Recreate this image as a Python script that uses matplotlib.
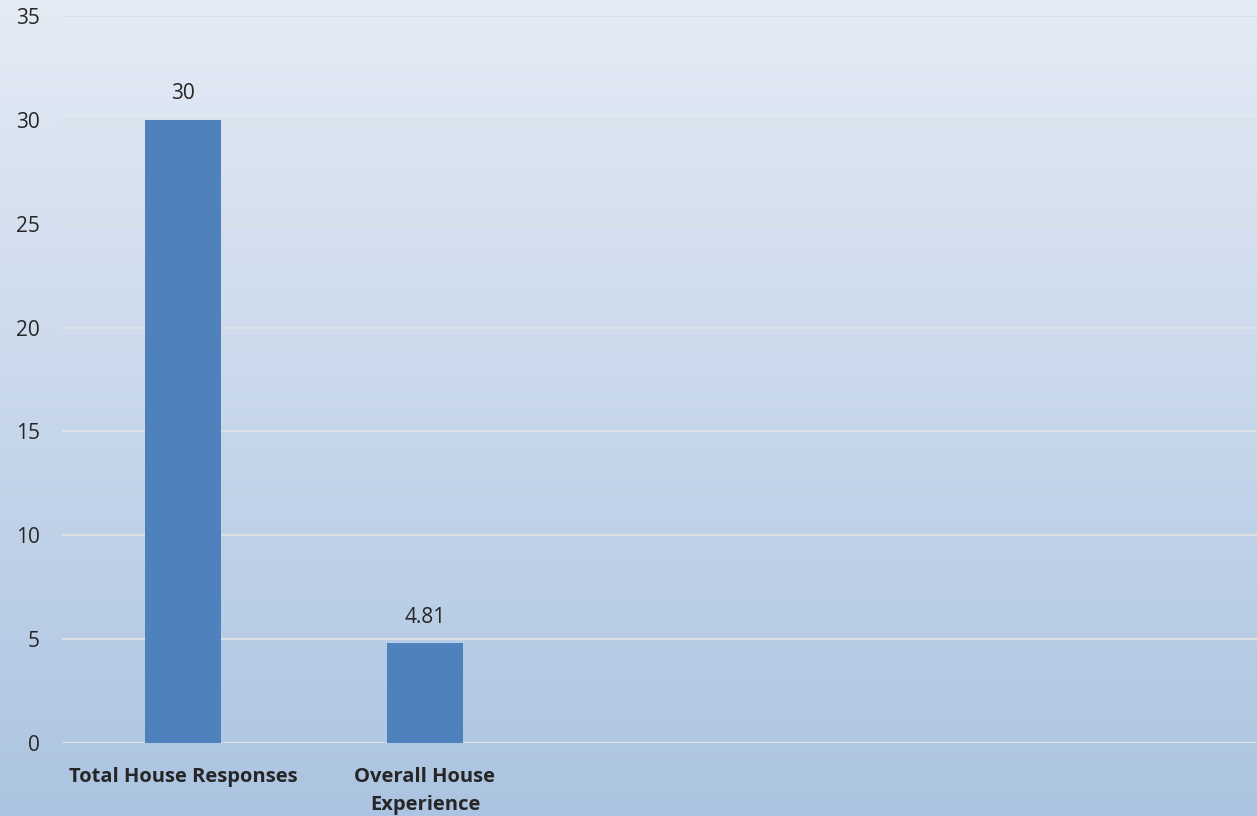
import matplotlib.pyplot as plt
import numpy as np

categories = ['Total House Responses', 'Overall House\nExperience', '', '', '']
values = [30, 4.81, None, None, None]
value_labels = ['30', '4.81']

plt.rcParams['font.family'] = ['Open Sans', 'DejaVu Sans']

fig = plt.figure(figsize=(12.57, 8.16), dpi=100)

# gradient background
bg = fig.add_axes([0, 0, 1, 1], zorder=-1)
grad = np.linspace(0, 1, 256).reshape(-1, 1)
top = np.array([0xe4, 0xeb, 0xf5]) / 255
bot = np.array([0xac, 0xc4, 0xe1]) / 255
img = top + (bot - top) * grad[:, :, None]
bg.imshow(img, aspect='auto', extent=[0, 1, 0, 1])
bg.axis('off')

ax = fig.add_axes([62 / 1257, 73 / 816, 1 - 62 / 1257, 727 / 816])
ax.patch.set_alpha(0)

x = np.arange(len(categories))
shown = [v for v in values if v is not None]
bars = ax.bar(x[:len(shown)], shown, width=0.31, color='#4f81bd', zorder=3)
for b, lab in zip(bars, value_labels):
    ax.text(b.get_x() + b.get_width() / 2, b.get_height() + 0.75, lab,
            ha='center', va='bottom', fontsize=15, color='#262626')

ax.set_xlim(-0.5, -0.5 + 1195 / 242)
ax.set_ylim(0, 35)
ax.set_yticks(range(0, 36, 5))
ax.set_xticks(x[:2])
ax.set_xticklabels(categories[:2], fontsize=14.5, fontweight='bold', color='#262626',
                   linespacing=1.55, va='top')
ax.tick_params(axis='y', length=0, pad=16, labelsize=15, labelcolor='#262626')
ax.tick_params(axis='x', length=0, pad=17)
for lab in ax.get_yticklabels():
    lab.set_horizontalalignment('right')
ax.grid(axis='y', color='#dcdfe4', linewidth=1.5, zorder=0)
for s in ax.spines.values():
    s.set_visible(False)

fig.savefig('out.png', dpi=100)
